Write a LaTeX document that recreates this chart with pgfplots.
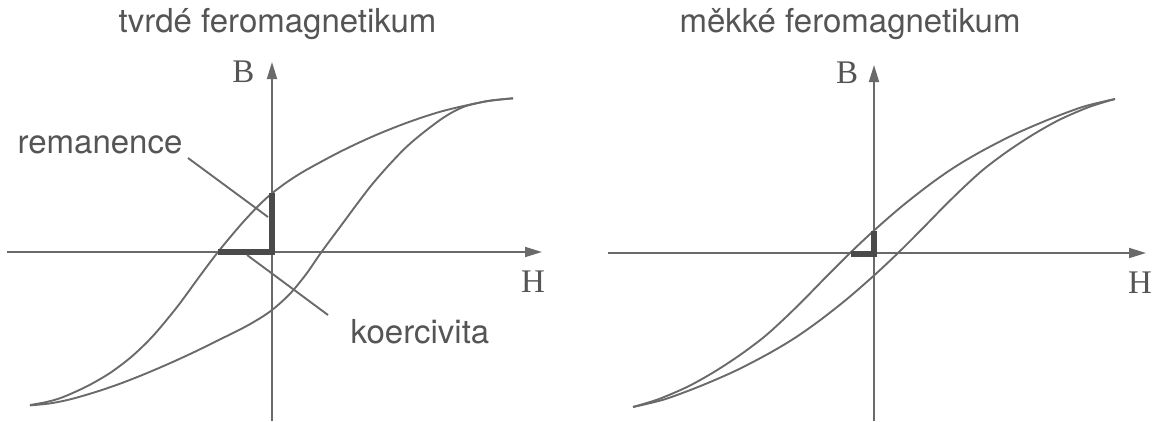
\documentclass[border=0pt]{standalone}
\usepackage{pgfplots}
\pgfplotsset{compat=1.18}
\usepackage{fontspec}
\setmainfont{TeX Gyre Heros}
\newfontfamily\serif{Liberation Serif}
\usetikzlibrary{arrows.meta}
\definecolor{linegray}{HTML}{6A6A6A}
\definecolor{textgray}{HTML}{555555}
\definecolor{markgray}{HTML}{4A4A4A}
\begin{document}
\begin{tikzpicture}[x=1bp,y=1bp]
\path[use as bounding box] (0,0) rectangle (1157,421);
\pgfplotsset{
  hyst/.style={
    x=1bp, y=1bp, axis lines=middle, xtick=\empty, ytick=\empty,
    clip=false,
    axis line style={line width=1.8bp, color=linegray, -{Triangle[length=17bp,width=10bp]}},
  },
  curve/.style={color=linegray, line width=1.9bp, smooth, no marks},
  thick mark/.style={color=markgray, line width=6bp, no marks},
  leader/.style={color=linegray, line width=1.9bp, no marks},
}
% ---- left: hard ferromagnet ----
\begin{axis}[hyst, at={(7bp,0bp)}, anchor=south west,
  xmin=-265, xmax=270, ymin=-169, ymax=190]
\addplot[curve] coordinates {
(241,153.7) (221,151.7) (201,148.1) (168,140.2) (134.7,129.2) (101,115.7)
(68,100.2) (34.7,82.3) (17,71.3) (0,58.7) (-14,45.8) (-32,26.4) (-54,0)
(-72,-23.8) (-95,-55.1) (-119,-83.9) (-140,-104.3) (-162,-121) (-185,-134.3)
(-209,-145.1) (-225,-149.9) (-242,-153)};
\addplot[curve] coordinates {
(-242,-153.4) (-222,-151.4) (-202,-147.4) (-177,-140.2) (-152,-131.7)
(-127,-121.9) (-102,-111.2) (-77,-99.7) (-52,-87.4) (-27,-74.9) (-10,-65)
(0,-58) (10,-49.5) (21,-38.5) (35,-21) (49,-0.7) (68,25) (101,68.7)
(134.7,105.3) (168,132) (190,144.5) (210,149.9) (221,151.7) (241,153.7)};
\addplot[thick mark] coordinates {(-54,0) (0,0) (0,59)};
\addplot[leader] coordinates {(-84,94) (-4,35)};
\addplot[leader] coordinates {(-25,-3) (56,-63)};
\end{axis}
% ---- right: soft ferromagnet ----
\begin{axis}[hyst, at={(608bp,0bp)}, anchor=south west,
  xmin=-266, xmax=272, ymin=-168, ymax=188]
\addplot[curve] coordinates {
(241,154) (210,146.5) (176,134) (140,118.5) (107,101.5) (80,85.5) (55,68)
(27,46) (0,22.5) (-24,0) (-48,-24) (-70,-46.5) (-90,-66) (-110,-84)
(-134,-102) (-160,-119) (-186,-133.5) (-215,-146) (-241,-154)};
\addplot[curve] coordinates {
(-241,-154) (-210,-146.5) (-176,-134) (-140,-118.5) (-107,-101.5)
(-80,-85.5) (-55,-68) (-27,-46) (0,-22.5) (24,0) (48,24) (70,46.5)
(90,66) (110,84) (134,102) (160,119) (186,133.5) (215,146) (241,154)};
\addplot[thick mark] coordinates {(-23,-1) (0,-1) (0,22)};
\end{axis}
% ---- texts ----
\begin{scope}[every node/.style={inner sep=0pt, anchor=base, text=textgray,
  font=\fontsize{33bp}{40bp}\selectfont}]
\node at (277.5,388) {tvrdé feromagnetikum};
\node at (850,388) {měkké feromagnetikum};
\node at (100,268) {remanence};
\node at (420,78) {koercivita};
\node[font=\fontsize{33bp}{40bp}\selectfont\serif] at (243.5,339) {B};
\node[font=\fontsize{33bp}{40bp}\selectfont\serif] at (533,129) {H};
\node[font=\fontsize{33bp}{40bp}\selectfont\serif] at (847,338) {B};
\node[font=\fontsize{33bp}{40bp}\selectfont\serif] at (1140,128) {H};
\end{scope}
\end{tikzpicture}
\end{document}
